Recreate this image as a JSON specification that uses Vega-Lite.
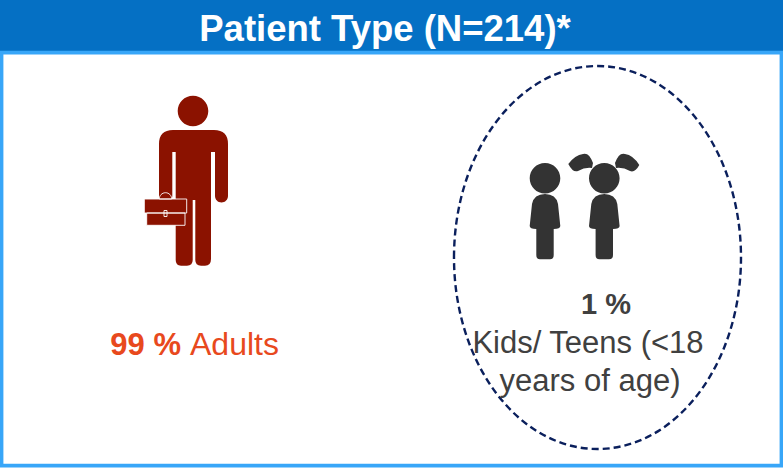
{
"$schema":"https://vega.github.io/schema/vega-lite/v6.json",
"width":783,"height":469,"padding":0,"autosize":{"type":"none"},
"background":"white","view":{"stroke":null},
"data":{"values":[
{"section":"Header","row":"Banner","element":"banner"},
{"section":"Header","row":"Banner","element":"frame"},
{"section":"Header","row":"Banner","element":"title","label":"Patient Type (N=214)*"},
{"section":"Adults","row":"Figure","element":"icon"},
{"section":"Adults","row":"Figure","element":"case"},
{"section":"Adults","row":"Caption","element":"percent","label":"99 %","share":99},
{"section":"Adults","row":"Caption","element":"name","label":"Adults"},
{"section":"Kids","row":"Figure","element":"icon"},
{"section":"Kids","row":"Figure","element":"ring"},
{"section":"Kids","row":"Caption","element":"percent","label":"1 %","share":1},
{"section":"Kids","row":"Caption","element":"line1","label":"Kids/ Teens (<18"},
{"section":"Kids","row":"Caption","element":"line2","label":"years of age)"}
]},
"encoding":{
"x":{"field":"section","type":"nominal","axis":null,"scale":{"type":"point","domain":["Adults","Header","Kids"],"range":[193,575],"padding":0}},
"y":{"field":"row","type":"nominal","axis":null,"scale":{"type":"point","domain":["Banner","Figure","Caption"],"range":[25,355],"padding":0}}
},
"layer":[
{"transform":[{"filter":"datum.element==='banner'"}],
 "mark":{"type":"point","filled":true,"opacity":1,"size":4,"fill":"#0570c4","stroke":null,"shape":"M-384,-25H399V27H-384Z"}},
{"transform":[{"filter":"datum.element==='frame'"}],
 "mark":{"type":"point","filled":false,"opacity":1,"size":4,"stroke":"#38a6f8","strokeWidth":3.6,"shape":"M-382.4,27.6H397.4V440.6H-382.4Z"}},
{"transform":[{"filter":"datum.element==='ring'"}],
 "mark":{"type":"point","filled":false,"opacity":1,"size":4,"stroke":"#0a1f5c","strokeWidth":2.4,"strokeDash":[7,4],"shape":"M-121,67.5A143.5,191.5,0,1,1,166,67.5A143.5,191.5,0,1,1,-121,67.5Z"}},
{"transform":[{"filter":"datum.element==='icon' && datum.section==='Adults'"}],
 "mark":{"type":"point","filled":true,"opacity":1,"size":4,"fill":"#8b1200","stroke":null,"shape":"M-15.3,-79a15.3,15.3,0,1,0,30.6,0a15.3,15.3,0,1,0,-30.6,0ZM-20,-60H21Q35,-60,35,-46V6A6.5,6.5,0,0,1,22,6V-38H18V69Q18,75.7,12,75.7H8Q2.3,75.7,2.3,70V10H-0.3V70Q-0.3,75.7,-6,75.7H-12Q-17.3,75.7,-17.3,70V-38H-20.7V6A6.5,6.5,0,0,1,-34,6V-46Q-34,-60,-20,-60Z"}},
{"transform":[{"filter":"datum.element==='case'"}],
 "mark":{"type":"point","filled":true,"opacity":1,"size":4,"fill":"#8b1200","stroke":"white","strokeWidth":0.9,"shape":"M-33.7,9A6.2,6.3,0,0,1,-21.3,9ZM-48.7,9H-6.3V23H-8V35.3H-46.3V23H-48.7ZM-46.3,23H-8ZM-29,20.5H-26V26.5H-29Z"}},
{"transform":[{"filter":"datum.element==='icon' && datum.section==='Kids'"}],
 "mark":{"type":"point","filled":true,"opacity":1,"size":4,"fill":"#333333","stroke":null,"shape":"M-45.3,-11.7a15.3,15.3,0,1,0,30.6,0a15.3,15.3,0,1,0,-30.6,0ZM-30,4Q-19,4,-17,14L-14.7,36Q-14.7,39,-21.3,39V65Q-21.3,69.3,-25,69.3H-35Q-38.7,69.3,-38.7,65V39Q-45.3,39,-45.3,36L-43,14Q-41,4,-30,4ZM14,-11.7a15.3,15.3,0,1,0,30.6,0a15.3,15.3,0,1,0,-30.6,0ZM29.3,4Q40.3,4,42.3,14L44.6,36Q44.6,39,38,39V65Q38,69.3,34,69.3H24.5Q20.6,69.3,20.6,65V39Q14,39,14,36L16.3,14Q18.3,4,29.3,4ZM18,-27Q14,-38,8,-36Q0,-35,-6.7,-26Q-2,-17,3,-19Q10,-23,17,-22ZM40,-27Q44,-38,50,-36Q58,-35,64.3,-25Q60,-17,55,-19Q48,-23,41,-22Z"}},
{"transform":[{"filter":"datum.element==='title'"}],
 "mark":{"type":"text","font":"Liberation Sans","fontWeight":"bold","fontSize":36.5,"fill":"white","align":"center","baseline":"alphabetic","dx":1,"dy":16},
 "encoding":{"text":{"field":"label"}}},
{"transform":[{"filter":"datum.element==='percent' && datum.section==='Adults'"}],
 "mark":{"type":"text","font":"Liberation Sans","fontWeight":"bold","fontSize":31,"fill":"#e8491d","align":"right","baseline":"alphabetic","dx":-12},
 "encoding":{"text":{"field":"label"}}},
{"transform":[{"filter":"datum.element==='name'"}],
 "mark":{"type":"text","font":"Liberation Sans","fontSize":32,"fill":"#e8491d","align":"left","baseline":"alphabetic","dx":-3},
 "encoding":{"text":{"field":"label"}}},
{"transform":[{"filter":"datum.element==='percent' && datum.section==='Kids'"}],
 "mark":{"type":"text","font":"Liberation Sans","fontWeight":"bold","fontSize":29,"fill":"#404040","align":"center","baseline":"alphabetic","dx":31,"dy":-41},
 "encoding":{"text":{"field":"label"}}},
{"transform":[{"filter":"datum.element==='line1'"}],
 "mark":{"type":"text","font":"Liberation Sans","fontSize":31,"fill":"#404040","align":"center","baseline":"alphabetic","dx":13,"dy":-2},
 "encoding":{"text":{"field":"label"}}},
{"transform":[{"filter":"datum.element==='line2'"}],
 "mark":{"type":"text","font":"Liberation Sans","fontSize":31,"fill":"#404040","align":"center","baseline":"alphabetic","dx":15,"dy":36},
 "encoding":{"text":{"field":"label"}}}
]
}
